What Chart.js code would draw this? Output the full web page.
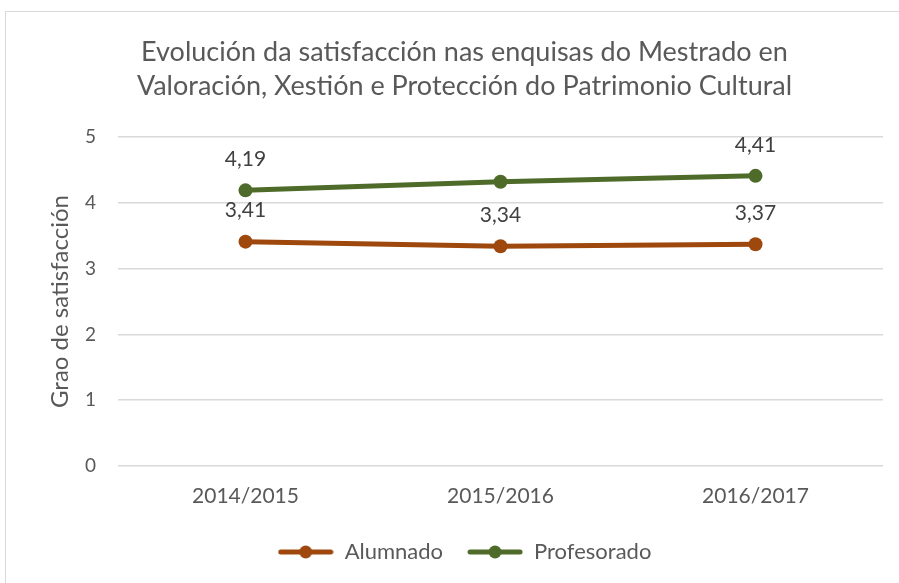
<!DOCTYPE html>
<html>
<head>
<meta charset="utf-8">
<script src="https://cdn.jsdelivr.net/npm/chart.js@4"></script>
<style>
  html, body { margin: 0; padding: 0; background: #fff; }
  #wrap { position: relative; width: 899px; height: 583px; overflow: hidden; }
  #frame { position: absolute; left: 5px; top: 11px; width: 900px; height: 600px;
           border-left: 1px solid #d9d9d9; border-top: 1px solid #d9d9d9; }
  canvas { position: absolute; left: 0; top: 0; }
</style>
</head>
<body>
<div id="wrap">
  <div id="frame"></div>
  <canvas id="chart" width="899" height="583"></canvas>
</div>
<script>
// datos
const categories = ["2014/2015", "2015/2016", "2016/2017"];
const alumnado = [3.41, 3.34, 3.37];
const profesorado = [4.19, 4.32, 4.41];
// which points carry a value label (the middle one of Profesorado has none)
const alumnadoShow = [true, true, true];
const profesoradoShow = [true, false, true];
const titleLines = [
  "Evolución da satisfacción nas enquisas do Mestrado en",
  "Valoración, Xestión e Protección do Patrimonio Cultural",
];
const yTitle = "Grao de satisfacción";

const ORANGE = "#9e480e";
const GREEN = "#4e6b2a";
const TEXT = "#595959";

function fmt(v) {
  return v.toFixed(2).replace(".", ",");
}

// legend marker: line with a dot in the middle
function legendMarker(color) {
  const c = document.createElement("canvas");
  c.width = 56;
  c.height = 16;
  const g = c.getContext("2d");
  g.strokeStyle = color;
  g.lineWidth = 5;
  g.lineCap = "round";
  g.beginPath();
  g.moveTo(3, 8);
  g.lineTo(53, 8);
  g.stroke();
  g.fillStyle = color;
  g.beginPath();
  g.arc(28, 8, 6.5, 0, Math.PI * 2);
  g.fill();
  return c;
}
const markers = [legendMarker(ORANGE), legendMarker(GREEN)];

const pointLabels = {
  id: "pointLabels",
  afterDatasetsDraw(chart) {
    const ctx = chart.ctx;
    ctx.save();
    ctx.font = "21px Lato";
    ctx.fillStyle = "#404040";
    ctx.textAlign = "center";
    ctx.textBaseline = "middle";
    chart.data.datasets.forEach((ds, i) => {
      const meta = chart.getDatasetMeta(i);
      meta.data.forEach((pt, j) => {
        if (!ds.showLabel[j]) return;
        ctx.fillText(fmt(ds.data[j]), pt.x, pt.y - 31);
      });
    });
    ctx.restore();
  },
};

const ctx = document.getElementById("chart").getContext("2d");
new Chart(ctx, {
  type: "line",
  data: {
    labels: categories,
    datasets: [
      {
        label: "Alumnado",
        data: alumnado,
        showLabel: alumnadoShow,
        borderColor: ORANGE,
        backgroundColor: ORANGE,
        borderWidth: 5,
        pointRadius: 7,
        pointBorderWidth: 0,
        pointStyle: "circle",
        tension: 0,
      },
      {
        label: "Profesorado",
        data: profesorado,
        showLabel: profesoradoShow,
        borderColor: GREEN,
        backgroundColor: GREEN,
        borderWidth: 5,
        pointRadius: 7,
        pointBorderWidth: 0,
        pointStyle: "circle",
        tension: 0,
      },
    ],
  },
  options: {
    responsive: false,
    animation: false,
    layout: { padding: { left: 46, right: 16, top: 0, bottom: 10 } },
    plugins: {
      title: {
        display: true,
        text: titleLines,
        color: TEXT,
        font: { family: "Lato", size: 27, weight: "normal", lineHeight: 1.26 },
        padding: { top: 35, bottom: 34 },
      },
      legend: {
        position: "bottom",
        labels: {
          usePointStyle: true,
          pointStyleWidth: 56,
          boxHeight: 16,
          color: TEXT,
          font: { family: "Lato", size: 22 },
          padding: 24,
          generateLabels(chart) {
            const items = Chart.defaults.plugins.legend.labels.generateLabels(chart);
            items.forEach((it) => { it.pointStyle = markers[it.datasetIndex]; });
            return items;
          },
        },
      },
      tooltip: { enabled: false },
    },
    scales: {
      x: {
        offset: true,
        afterFit: (s) => { s.height = 51; },
        grid: { display: false, drawTicks: false },
        border: { display: false },
        ticks: { color: TEXT, font: { family: "Lato", size: 21 }, padding: 18 },
      },
      y: {
        min: 0,
        max: 5,
        afterFit: (s) => { s.width = 72; },
        ticks: { stepSize: 1, color: TEXT, font: { family: "Lato", size: 19 }, padding: 22 },
        grid: { color: "#d9d9d9", lineWidth: 1.5, drawTicks: false },
        border: { display: false },
        title: {
          display: true,
          text: yTitle,
          color: TEXT,
          font: { family: "Lato", size: 24 },
          padding: { top: 0, bottom: 0 },
        },
      },
    },
  },
  plugins: [pointLabels],
});
</script>
</body>
</html>
